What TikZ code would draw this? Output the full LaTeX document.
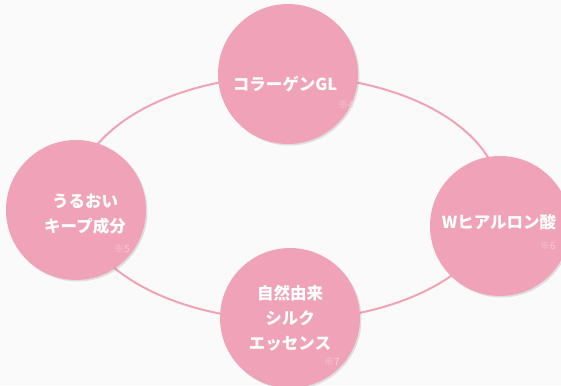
\documentclass[tikz,border=0pt]{standalone}
\usepackage{fontspec}
\setmainfont{Noto Sans CJK JP}
\usetikzlibrary{shadows}
\definecolor{sakura}{HTML}{F0A3B8}
\definecolor{faint}{HTML}{F8CAD7}
\definecolor{paper}{HTML}{FAFAFA}
\tikzset{
  ball/.style={circle,fill=sakura,minimum size=140pt,inner sep=0pt,
    drop shadow={shadow xshift=1.5pt,shadow yshift=-1.5pt,opacity=0.18,fill=black!60}},
  label/.style={text=white,font=\bfseries\fontsize{16.5}{25}\selectfont,align=center},
  note/.style={text=faint,font=\fontsize{10}{10}\selectfont,inner sep=0pt}
}

\begin{document}
\begin{tikzpicture}[x=1pt,y=-1pt]
  \fill[paper] (0,0) rectangle (561,385);
  \useasboundingbox (0,0) rectangle (561,385);
  \coordinate (mid) at (288,198);
  \draw[sakura,line width=2pt] (mid) ellipse [x radius=212, y radius=122];
  \node[ball] (gl) at (288,74) {};
  \node[ball] (keep) at (76,210) {};
  \node[ball] (wha) at (500,226) {};
  \node[ball] (silk) at (290,318) {};
  \node[label] (glt) at (285,84) {コラーゲンGL};
  \node[label] (keept) at (85,214) {うるおい\\キープ成分};
  \node[label] (what) at (499,222) {Wヒアルロン酸};
  \node[label] (silkt) at (290,318) {自然由来\\シルク\\エッセンス};
  \node[note] (n4) at (346,105) {※4};
  \node[note] (n5) at (122,249) {※5};
  \node[note] (n6) at (548,246) {※6};
  \node[note] (n7) at (332,362) {※7};
\end{tikzpicture}
\end{document}
